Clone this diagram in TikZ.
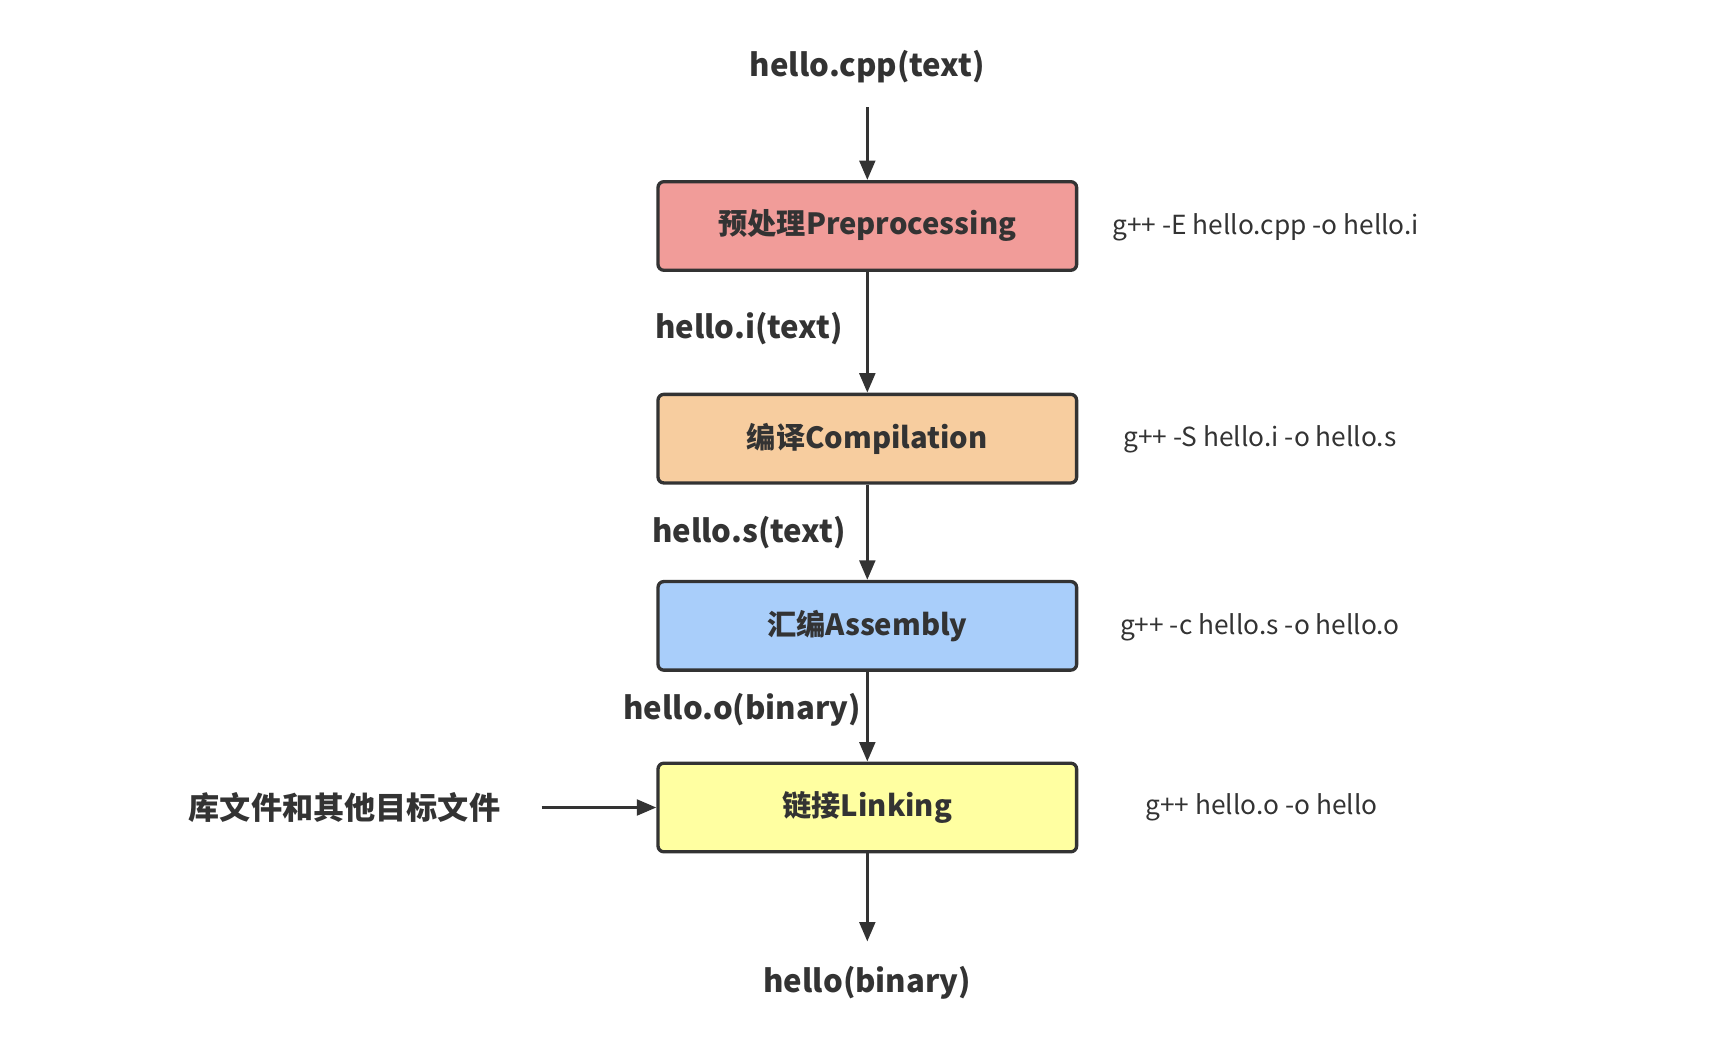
\documentclass[tikz,border=0pt]{standalone}
\usepackage{fontspec}
\setmainfont{Noto Sans CJK SC}
\usetikzlibrary{arrows.meta}
\definecolor{ink}{HTML}{333333}
\definecolor{cA}{HTML}{F19C99}
\definecolor{cB}{HTML}{F7CD9F}
\definecolor{cC}{HTML}{A9CEFA}
\definecolor{cD}{HTML}{FFFFA1}
\begin{document}
\begin{tikzpicture}[x=0.02cm,y=-0.02cm,
  box/.style={draw=ink,line width=1.7pt,rounded corners=3pt,minimum width=7.56cm,minimum height=1.6cm,font=\fontsize{15}{18}\selectfont\bfseries,text=ink},
  lab/.style={font=\fontsize{16}{19}\selectfont\bfseries,text=ink},
  cmd/.style={font=\fontsize{13.5}{16}\selectfont,text=ink,anchor=west},
  arr/.style={draw=ink,line width=1.7pt,-{Triangle[length=10pt,width=8pt]}}]
\useasboundingbox (0,0) rectangle (1560,960);
\node[lab] (src) at (783,60) {hello.cpp(text)};
\coordinate (srcb) at (783,97);
\node[box,fill=cA] (pre) at (783,204) {预处理Preprocessing};
\node[box,fill=cB] (comp) at (783,396) {编译Compilation};
\node[box,fill=cC] (asm) at (783,565) {汇编Assembly};
\node[box,fill=cD] (link) at (783,729) {链接Linking};
\node[lab] (out) at (783,887) {hello(binary)};
\coordinate (outt) at (783,850);
\node[lab] (li) at (676,297) {hello.i(text)};
\node[lab] (ls) at (676,481) {hello.s(text)};
\node[lab] (lo) at (670,641) {hello.o(binary)};
\node[lab] (lib) at (311,729) {库文件和其他目标文件};
\coordinate (libe) at (489,729);
\node[cmd] (c1) at (998,205) {g++ -E hello.cpp -o hello.i};
\node[cmd] (c2) at (1008,397) {g++ -S hello.i -o hello.s};
\node[cmd] (c3) at (1005,566) {g++ -c hello.s -o hello.o};
\node[cmd] (c4) at (1028,729) {g++ hello.o -o hello};
\draw[arr] (srcb) -- (pre);
\draw[arr] (pre) -- (comp);
\draw[arr] (comp) -- (asm);
\draw[arr] (asm) -- (link);
\draw[arr] (link) -- (outt);
\draw[arr] (libe) -- (link);
\end{tikzpicture}
\end{document}
